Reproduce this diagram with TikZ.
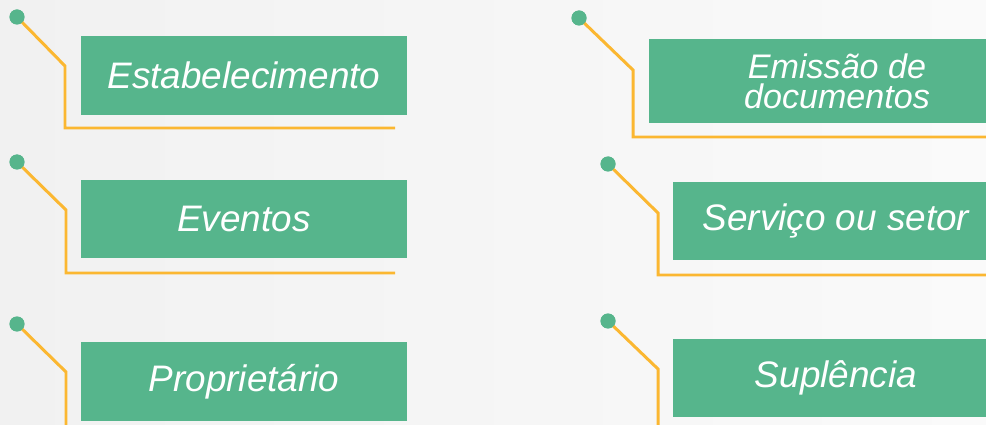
\documentclass[tikz,border=0pt]{standalone}
\usepackage{fontspec}
\setmainfont{Liberation Sans}
\usepackage{xcolor}
\definecolor{boxgreen}{RGB}{86,181,140}
\definecolor{lineorange}{RGB}{251,183,49}
\definecolor{bgleft}{RGB}{241,241,241}
\definecolor{bgright}{RGB}{250,250,250}

\begin{document}
\begin{tikzpicture}[x=0.02cm, y=-0.02cm,
  every node/.style = {shape=rectangle, align=center, inner sep=0pt},
  topic/.style = {fill=boxgreen, text=white, font=\fontsize{21}{24}\selectfont\itshape, minimum width=6.52cm, minimum height=1.58cm},
  dot/.style = {shape=circle, fill=boxgreen, minimum size=0.3cm},
  link/.style = {draw=lineorange, line width=1.7pt}]
\clip (0,0) rectangle (986,425);
\shade[left color=bgleft, right color=bgright] (0,0) rectangle (986,425);

% left column
\node[topic] (est) at (244,75.5) {Estabelecimento};
\node[topic, minimum height=1.56cm] (eve) at (244,219) {Eventos};
\node[topic] (pro) at (244,381.5) {Proprietário};
% right column
\node[topic, minimum width=7.52cm, minimum height=1.7cm, font=\fontsize{19.4}{17}\selectfont\itshape] (emi) at (837,81) {Emissão de\\documentos};
\node[topic, minimum height=1.56cm] (ser) at (836,221) {Serviço ou setor};
\node[topic, minimum height=1.56cm] (sup) at (836,378) {Suplência};

% dots, bends and line ends
\node[dot] (d-est) at (17,17) {};
\node[dot] (d-eve) at (17,162) {};
\node[dot] (d-pro) at (17,324) {};
\node[dot] (d-emi) at (579,18) {};
\node[dot] (d-ser) at (608,164) {};
\node[dot] (d-sup) at (608,321) {};
\coordinate (b-est) at (65,66);   \coordinate (e-est) at (395,128);
\coordinate (b-eve) at (66,210);  \coordinate (e-eve) at (395,273);
\coordinate (b-pro) at (66,372);  \coordinate (e-pro) at (66,440);
\coordinate (b-emi) at (633,70);  \coordinate (e-emi) at (1000,137);
\coordinate (b-ser) at (658,213); \coordinate (e-ser) at (1000,275);
\coordinate (b-sup) at (658,369); \coordinate (e-sup) at (658,440);

\foreach \t in {est,eve,emi,ser} {
  \draw[link] (d-\t.center) -- (b-\t) |- (e-\t);
  \node[dot] at (d-\t) {};
}
\foreach \t in {pro,sup} {
  \draw[link] (d-\t.center) -- (b-\t) -- (e-\t);
  \node[dot] at (d-\t) {};
}
\end{tikzpicture}
\end{document}
